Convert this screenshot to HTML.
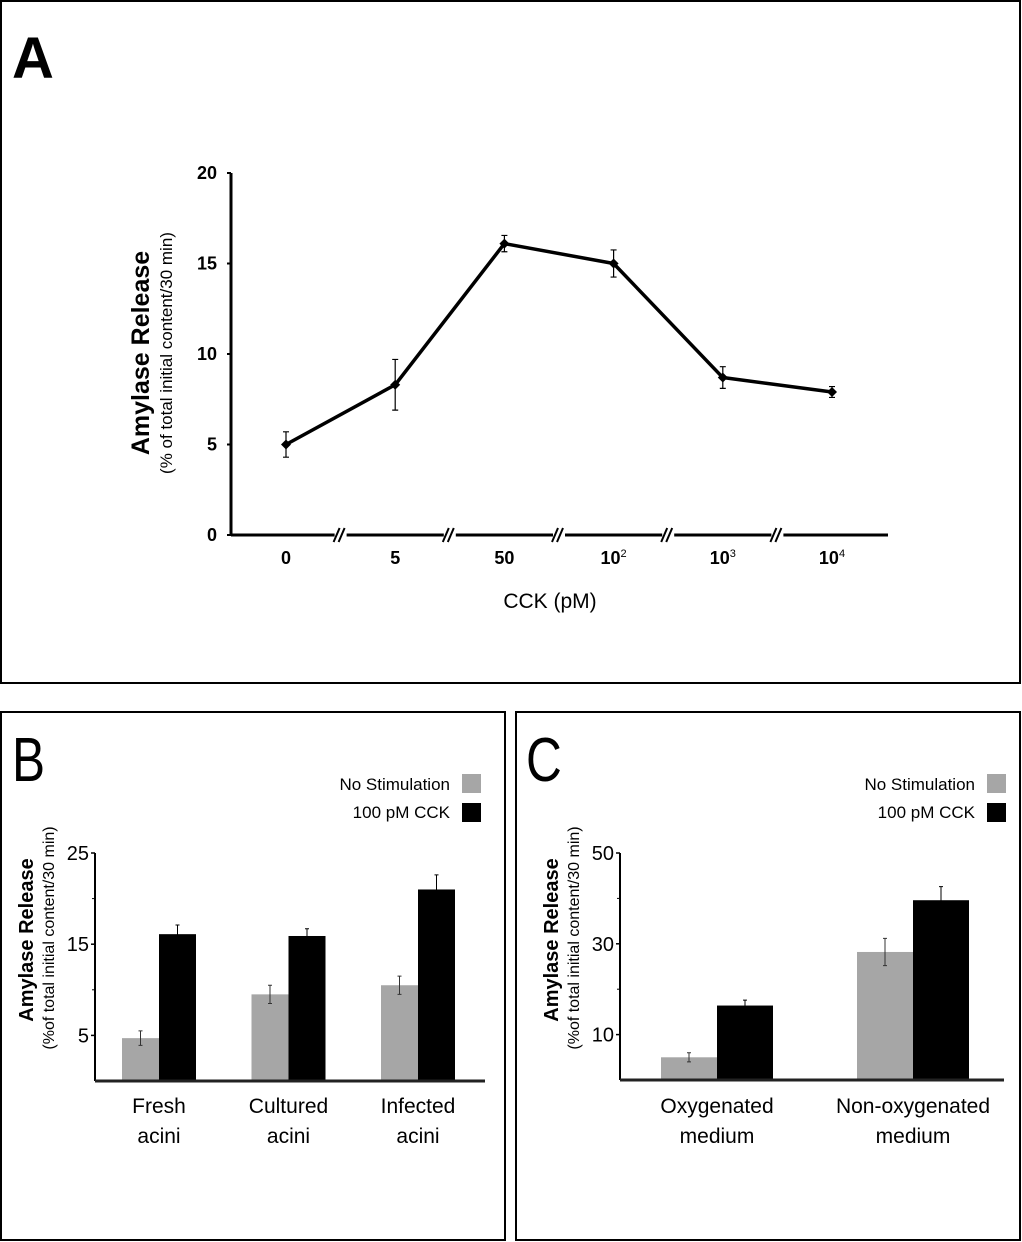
<!DOCTYPE html>
<html><head><meta charset="utf-8">
<style>
html,body{margin:0;padding:0;background:#fff;}
svg{display:block;font-family:"Liberation Sans",Arial,sans-serif;}
</style></head>
<body>
<svg id="fig" width="1022" height="1242" viewBox="0 0 1022 1242" xmlns="http://www.w3.org/2000/svg">
  <rect x="1" y="1" width="1019" height="682" fill="none" stroke="#000" stroke-width="2"/>
  <rect x="1" y="712" width="504" height="528" fill="none" stroke="#000" stroke-width="2"/>
  <rect x="516" y="712" width="504" height="528" fill="none" stroke="#000" stroke-width="2"/>
  <text x="12" y="78" font-size="58" font-weight="bold">A</text>
  <text x="0" y="0" font-size="62" transform="translate(12,781) scale(0.8,1)">B</text>
  <text x="0" y="0" font-size="62" transform="translate(526,781) scale(0.8,1)">C</text>

  <g id="chartA"></g>
  <g id="chartB"></g>
  <g id="chartC"></g>
</svg>
<script>
// Panel A data
const aCategories = ["0","5","50","10|2","10|3","10|4"];
const aValues = [5.0, 8.3, 16.1, 15.0, 8.7, 7.9];
const aErrors = [0.7, 1.4, 0.45, 0.75, 0.6, 0.3];
const aTicks = [0,5,10,15,20];
// Panel B data
const bCategories = [["Fresh","acini"],["Cultured","acini"],["Infected","acini"]];
const bNoStim = [4.7, 9.5, 10.5];
const bNoStimErr = [0.8, 1.0, 1.0];
const bCCK = [16.1, 15.9, 21.0];
const bCCKErr = [1.0, 0.8, 1.6];
const bTicks = [5,15,25];
const bMinorTicks = [10,20];
// Panel C data
const cCategories = [["Oxygenated","medium"],["Non-oxygenated","medium"]];
const cNoStim = [5.0, 28.2];
const cNoStimErr = [1.0, 3.0];
const cCCK = [16.4, 39.6];
const cCCKErr = [1.2, 3.0];
const cTicks = [10,30,50];
const cMinorTicks = [20,40];

const NS = "http://www.w3.org/2000/svg";
function mk(parent, tag, attrs, text){
  const e = document.createElementNS(NS, tag);
  for (const k in attrs) e.setAttribute(k, attrs[k]);
  if (text !== undefined) e.textContent = text;
  parent.appendChild(e);
  return e;
}

// ---------- Panel A ----------
(function(){
  const g = document.getElementById('chartA');
  const x0 = 231, yBase = 535, yTop = 173, xEnd = 888;
  const y = v => yBase - (v/20)*(yBase-yTop);
  const x = i => 286 + i*109.2;
  let e;
  e = mk(g,'line',{x1:x0,y1:yTop,x2:x0,y2:yBase,stroke:'#000','stroke-width':3});
  
  
  e = mk(g,'line',{x1:x0,y1:yBase,x2:xEnd,y2:yBase,stroke:'#000','stroke-width':3});
  
  
  aTicks.forEach(t=>{
    mk(g,'line',{x1:x0-4,y1:y(t),x2:x0,y2:y(t),stroke:'#000','stroke-width':2});
    e = mk(g,'text',{x:x0-14,y:y(t)+6,'font-size':18,'font-weight':'bold','text-anchor':'end'},String(t));
    
    
  });
  for (let i=0;i<aCategories.length-1;i++){
    const bx = (x(i)+x(i+1))/2;
    mk(g,'rect',{x:bx-6,y:yBase-3,width:12,height:6,fill:'#fff'});
    mk(g,'line',{x1:bx-7,y1:yBase+7,x2:bx-1,y2:yBase-7,stroke:'#000','stroke-width':2});
    mk(g,'line',{x1:bx-2,y1:yBase+7,x2:bx+4,y2:yBase-7,stroke:'#000','stroke-width':2});
  }
  aCategories.forEach((c,i)=>{
    const parts = c.split('|');
    const t = mk(g,'text',{x:x(i),y:564,'font-size':18,'font-weight':'bold','text-anchor':'middle'});
    
    
    mk(t,'tspan',{},parts[0]);
    if (parts[1]) mk(t,'tspan',{dy:-7,'font-size':11,'font-weight':'normal'},parts[1]);
  });
  const pts = aValues.map((v,i)=>x(i)+','+y(v)).join(' ');
  e = mk(g,'polyline',{points:pts,fill:'none',stroke:'#000','stroke-width':3.5,'stroke-linejoin':'round'});
  
  
  aValues.forEach((v,i)=>{
    const cx = x(i), cy = y(v), er = aErrors[i]*(yBase-yTop)/20;
    e = mk(g,'path',{d:`M${cx-3},${cy-er}H${cx+3}M${cx},${cy-er}V${cy+er}M${cx-3},${cy+er}H${cx+3}`,stroke:'#000','stroke-width':1.2,fill:'none'});
    
    
    e = mk(g,'path',{d:`M${cx},${cy-5}L${cx+5},${cy}L${cx},${cy+5}L${cx-5},${cy}Z`,fill:'#000'});
    
    
  });
  e = mk(g,'text',{x:0,y:0,'font-size':25,'font-weight':'bold','text-anchor':'middle',transform:'translate(149,353) rotate(-90)'},'Amylase Release');
  
  
  e = mk(g,'text',{x:0,y:0,'font-size':17,'text-anchor':'middle',transform:'translate(172,353) rotate(-90)'},'(% of total initial content/30 min)');
  
  
  e = mk(g,'text',{x:550,y:608,'font-size':21,'text-anchor':'middle'},'CCK (pM)');
  
  
})();

// ---------- Bar panels ----------
function barPanel(id, o){
  const g = document.getElementById(id);
  const y = v => o.yBase - (v/o.max)*(o.yBase-o.yTop);
  let e;
  e = mk(g,'line',{x1:o.x0,y1:o.yTop,x2:o.x0,y2:o.yBase,stroke:'#000','stroke-width':2});
  
  
  o.ticks.forEach(t=>{
    mk(g,'line',{x1:o.x0-4,y1:y(t),x2:o.x0,y2:y(t),stroke:'#000','stroke-width':1.5});
    e = mk(g,'text',{x:o.x0-6,y:y(t)+7,'font-size':20,'text-anchor':'end'},String(t));
    
    
  });
  o.minor.forEach(t=>{
    e = mk(g,'line',{x1:o.x0-3,y1:y(t),x2:o.x0,y2:y(t),stroke:'#000','stroke-width':1});
    
    
  });
  o.cats.forEach((c,i)=>{
    const gx = o.g0 + i*o.gStep;
    const bars = [[o.ns[i],o.nsErr[i],'#a6a6a6',gx],[o.cck[i],o.cckErr[i],'#000',gx+o.bw]];
    bars.forEach((b,j)=>{
      const top = y(b[0]);
      e = mk(g,'rect',{x:b[3],y:top,width:o.bw,height:o.yBase-top,fill:b[2]});
      
      
      const cx = b[3]+o.bw/2, er = b[1]*(o.yBase-o.yTop)/o.max;
      e = mk(g,'path',{d:`M${cx-2},${top-er}H${cx+2}M${cx},${top-er}V${top+er}M${cx-2},${top+er}H${cx+2}`,stroke:j?'#000':'#333','stroke-width':1,fill:'none'});
      
      
    });
    const lx = gx + o.bw;
    e = mk(g,'text',{x:lx,y:1113,'font-size':21,'text-anchor':'middle'},c[0]);
    
    
    e = mk(g,'text',{x:lx,y:1143,'font-size':21,'text-anchor':'middle'},c[1]);
    
    
  });
  e = mk(g,'line',{x1:o.x0,y1:o.yBase,x2:o.xEnd,y2:o.yBase,stroke:'#222','stroke-width':3});
  
  
  e = mk(g,'text',{x:0,y:0,'font-size':20,'font-weight':'bold','text-anchor':'middle',transform:`translate(${o.tx},940) rotate(-90)`},'Amylase Release');
  
  
  e = mk(g,'text',{x:0,y:0,'font-size':16,'text-anchor':'middle',transform:`translate(${o.tx+21},938) rotate(-90)`},'(%of total initial content/30 min)');
  
  
  e = mk(g,'text',{x:o.lx-12,y:790,'font-size':17,'text-anchor':'end'},'No Stimulation');
  
  
  mk(g,'rect',{x:o.lx,y:774,width:19,height:19,fill:'#a6a6a6'});
  e = mk(g,'text',{x:o.lx-12,y:818,'font-size':17,'text-anchor':'end'},'100 pM CCK');
  
  
  mk(g,'rect',{x:o.lx,y:803,width:19,height:19,fill:'#000'});
}
barPanel('chartB',{p:'b',x0:95,yTop:853,yBase:1081,xEnd:485,max:25,ticks:bTicks,minor:bMinorTicks,cats:bCategories,
  ns:bNoStim,nsErr:bNoStimErr,cck:bCCK,cckErr:bCCKErr,g0:122,gStep:129.5,bw:37,tx:33,lx:462});
barPanel('chartC',{p:'c',x0:620,yTop:853,yBase:1080,xEnd:1004,max:50,ticks:cTicks,minor:cMinorTicks,cats:cCategories,
  ns:cNoStim,nsErr:cNoStimErr,cck:cCCK,cckErr:cCCKErr,g0:661,gStep:196,bw:56,tx:558,lx:987});
</script>
</body></html>
